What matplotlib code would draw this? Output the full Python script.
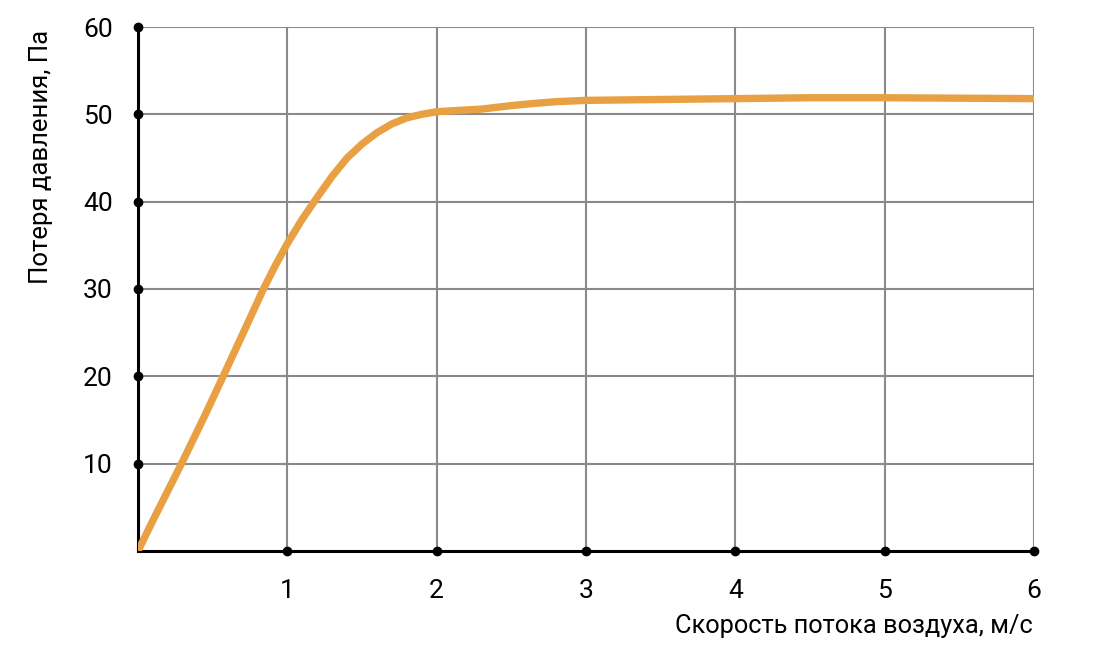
import matplotlib.pyplot as plt

# Curve
speed = [0, 0.1, 0.2, 0.3, 0.45, 0.57, 0.7, 0.84, 0.92, 1.0, 1.1, 1.2, 1.3, 1.4, 1.5, 1.6, 1.7,
         1.8, 1.9, 2.0, 2.15, 2.3, 2.4, 2.5, 2.65, 2.8, 3.0, 3.5, 4.0, 4.5, 5.0, 5.5, 6.0]
loss = [0, 3.5, 6.9, 10.3, 15.6, 20, 24.8, 30, 32.7, 35.2, 38.0, 40.5, 42.9, 45.0, 46.6, 47.9, 48.9,
        49.6, 50.0, 50.3, 50.45, 50.6, 50.8, 51.0, 51.25, 51.45, 51.6, 51.7, 51.8, 51.9, 51.9, 51.85, 51.8]

x_ticks = [1, 2, 3, 4, 5, 6]
y_ticks = [10, 20, 30, 40, 50, 60]

plt.rcParams['font.family'] = ['Roboto', 'DejaVu Sans']

fig = plt.figure(figsize=(11.03, 6.62), dpi=100)
ax = fig.add_axes([0.1251, 0.1677, 0.8124, 0.7915])

ax.set_xlim(0, 6)
ax.set_ylim(0, 60)
ax.grid(True, color='#8a8a8a', linewidth=1.5)
ax.set_axisbelow(True)
for s in ['top', 'right']:
    ax.spines[s].set_visible(False)
for s in ['left', 'bottom']:
    ax.spines[s].set_linewidth(2.2)
    ax.spines[s].set_color('black')
    ax.spines[s].set_zorder(3)

ax.plot(speed, loss, color='#e8a043', linewidth=5.3, solid_capstyle='butt', zorder=4)

# black dots on the axes at each tick
ax.plot(x_ticks, [0] * len(x_ticks), 'o', color='black', markersize=6, clip_on=False, zorder=5)
ax.plot([0] * len(y_ticks), y_ticks, 'o', color='black', markersize=6, clip_on=False, zorder=5)

ax.set_xticks(x_ticks)
ax.set_yticks(y_ticks)
ax.tick_params(length=0, labelsize=19, pad=18)
ax.tick_params(axis='x', pad=20)

fig.text(0.936, 0.055, 'Скорость потока воздуха, м/с', ha='right', va='center', fontsize=18.3)
fig.text(0.037, 0.955, 'Потеря давления, Па', ha='center', va='top', rotation=90, fontsize=18.5)

fig.savefig('out.png', dpi=100)
